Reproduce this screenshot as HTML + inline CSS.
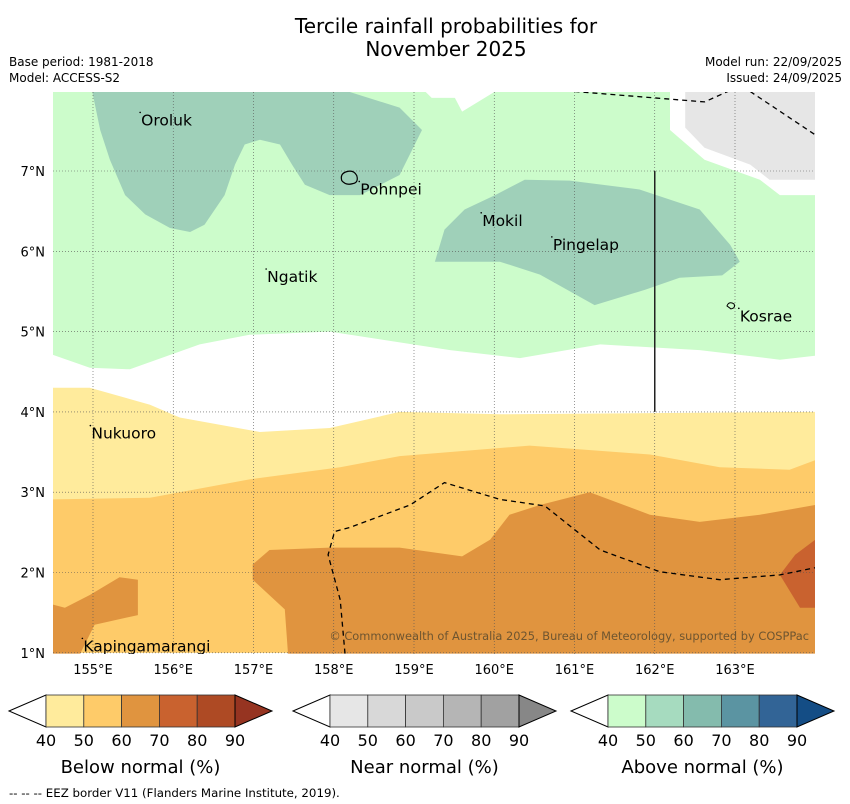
<!DOCTYPE html>
<html><head><meta charset="utf-8">
<style>
body{margin:0;background:#fff;width:850px;height:804px;overflow:hidden;font-family:"DejaVu Sans","Liberation Sans",sans-serif;}
svg{position:absolute;left:0;top:0}
</style></head>
<body>
<svg id="chart" width="850" height="804" viewBox="0 0 850 804">
<text x="446" y="33" font-size="20" text-anchor="middle">Tercile rainfall probabilities for</text>
<text x="446" y="56" font-size="20" text-anchor="middle">November 2025</text>
<text x="9" y="66" font-size="12">Base period: 1981-2018</text>
<text x="9" y="82" font-size="12">Model: ACCESS-S2</text>
<text x="842" y="66" font-size="12" text-anchor="end">Model run: 22/09/2025</text>
<text x="842" y="82" font-size="12" text-anchor="end">Issued: 24/09/2025</text>
<defs><clipPath id="mapclip"><rect x="53" y="92" width="762" height="562"/></clipPath></defs>
<g id="map" clip-path="url(#mapclip)"></g>
<g id="overlay"></g>
<text x="809" y="640" font-size="11.4" fill="#6e5530" text-anchor="end">© Commonwealth of Australia 2025, Bureau of Meteorology, supported by COSPPac</text>
<g id="bars"></g>
<text x="9" y="797" font-size="11.8">--  --  -- EEZ border V11 (Flanders Marine Institute, 2019).</text>
</svg>
<script>
const lonTicks=[155,156,157,158,159,160,161,162,163];
const latTicks=[1,2,3,4,5,6,7];
const X=lon=>93+(lon-155)*80.25;
const Y=lat=>171-(lat-7)*80.3;
const greenAbove40=[[154.5,7.99],[159.14,7.99],[159.22,7.91],[159.51,7.91],[159.60,7.74],[160.01,7.99],[162.19,7.99],[162.19,7.51],[162.62,7.14],[163.31,6.89],[163.56,6.70],[164,6.70],[164,4.70],[163.56,4.65],[162.56,4.77],[161.32,4.84],[160.32,4.67],[159.45,4.77],[157.95,5.00],[156.95,4.96],[156.33,4.84],[155.46,4.53],[154.96,4.55],[154.5,4.71]];
const grayNear40=[[162.38,7.99],[164,7.99],[164,6.89],[163.43,6.89],[163.19,7.08],[162.62,7.29],[162.38,7.54]];
const greenAbove50a=[[154.99,7.99],[158.18,7.99],[158.82,7.79],[159.10,7.51],[158.82,6.95],[158.33,6.70],[157.95,6.70],[157.64,6.83],[157.48,7.08],[157.33,7.33],[157.08,7.39],[156.89,7.33],[156.77,7.08],[156.64,6.70],[156.39,6.33],[156.21,6.24],[155.96,6.29],[155.65,6.46],[155.40,6.70],[155.21,7.14],[155.09,7.51]];
const greenAbove50b=[[160.38,6.89],[160.94,6.88],[161.81,6.77],[162.56,6.52],[162.94,6.08],[163.06,5.87],[162.84,5.70],[162.31,5.67],[161.88,5.52],[161.25,5.33],[160.57,5.71],[160.07,5.87],[159.26,5.87],[159.38,6.27],[159.63,6.52],[160.01,6.70]];
const yellowBelow40=[[154.5,4.30],[154.96,4.30],[155.71,4.09],[156.08,3.93],[157.08,3.75],[157.95,3.80],[158.82,4.00],[160.07,3.97],[164,4.00],[164,1],[154.5,1]];
const orangeBelow50=[[154.5,2.91],[155.71,2.93],[156.95,3.16],[158.08,3.31],[158.82,3.45],[160.44,3.58],[161.94,3.47],[162.81,3.31],[163.68,3.28],[164,3.40],[164,1],[154.5,1]];
const orangeBelow60a=[[156.99,2.10],[157.20,2.28],[157.95,2.31],[158.82,2.31],[159.60,2.20],[159.95,2.41],[160.19,2.72],[160.57,2.84],[161.19,3.00],[161.94,2.72],[162.56,2.63],[163.31,2.72],[164,2.84],[164,0.99],[157.43,0.99],[157.39,1.54],[156.99,1.91]];
const orangeBelow60b=[[154.5,1.60],[154.65,1.56],[154.96,1.72],[155.33,1.94],[155.56,1.91],[155.56,1.47],[155.02,1.35],[154.84,0.99],[154.5,0.99]];
const redBelow70=[[164,2.41],[163.75,2.22],[163.56,1.97],[163.81,1.56],[164,1.56]];
const eez1=[[158.14,0.99],[158.08,1.66],[157.93,2.22],[158.01,2.51],[158.20,2.56],[158.95,2.84],[159.38,3.12],[160.07,2.91],[160.63,2.83],[161.32,2.28],[162.06,2.01],[162.81,1.91],[163.56,1.97],[164,2.06]];
const eez2=[[161.0,7.99],[162.62,7.86],[163.0,8.03]];
const eez3=[[163.19,7.99],[164,7.45]];
const islands=[["Oroluk",155.6,7.63],["Pohnpei",158.33,6.77],["Mokil",159.85,6.38],["Pingelap",160.73,6.08],["Ngatik",157.17,5.68],["Kosrae",163.06,5.19],["Nukuoro",154.98,3.73],["Kapingamarangi",154.88,1.08]];
const barTicks=[40,50,60,70,80,90];
const belowColors=["#ffeb9c","#fecb69","#e0943f","#c9622f","#ae4a24","#963421"];
const nearColors=["#e6e6e6","#d8d8d8","#c9c9c9","#b5b5b5","#a1a1a1","#878787"];
const aboveColors=["#ccfccb","#a6dbbf","#84bbad","#5b94a2","#326496","#144d85"];
const NS="http://www.w3.org/2000/svg";
function mk(tag,attrs,parent){const e=document.createElementNS(NS,tag);for(const k in attrs)e.setAttribute(k,attrs[k]);parent.appendChild(e);return e;}
const pts=a=>a.map(p=>X(p[0]).toFixed(1)+","+Y(p[1]).toFixed(1)).join(" ");
const map=document.getElementById("map");
function poly(arr,fill,name){const e=mk("polygon",{points:pts(arr),fill:fill},map);

}
poly(greenAbove40,"#ccfccb","above-normal-40-region");
poly(grayNear40,"#e6e6e6","near-normal-40-region");
poly(greenAbove50a,"#9fd0b9","above-normal-50-region-west");
poly(greenAbove50b,"#9fd0b9","above-normal-50-region-east");
poly(yellowBelow40,"#ffeb9c","below-normal-40-region");
poly(orangeBelow50,"#fecb69","below-normal-50-region");
poly(orangeBelow60a,"#e0943f","below-normal-60-region-south");
poly(orangeBelow60b,"#e0943f","below-normal-60-region-west");
poly(redBelow70,"#c9622f","below-normal-70-region");
lonTicks.forEach(l=>{const g=mk("line",{x1:X(l),x2:X(l),y1:92,y2:654,stroke:"#555","stroke-width":0.6,"stroke-dasharray":"1,2"},map);

});
latTicks.forEach(l=>{const g=mk("line",{x1:53,x2:815,y1:Y(l),y2:Y(l),stroke:"#555","stroke-width":0.6,"stroke-dasharray":"1,2"},map);

});
[eez1,eez2,eez3].forEach(a=>{const e=mk("polyline",{points:pts(a),fill:"none",stroke:"#000","stroke-width":1.3,"stroke-dasharray":"5,4"},map);

});
const vl=mk("line",{x1:X(162),x2:X(162),y1:Y(7),y2:Y(4),stroke:"#222","stroke-width":1.5},map);


const pe=mk("path",{d:`M${X(158.1)},${Y(6.88)} q-2,-7 5,-9 q7,-2 10,4 q2,7 -4,8 q-7,2 -11,-3z`,fill:"none",stroke:"#000","stroke-width":1.2},map);


const ko=mk("path",{d:`M${X(162.9)},${Y(5.32)} q2,-5 7,-2 q2,4 -3,5z`,fill:"none",stroke:"#000","stroke-width":1},map);


islands.forEach(i=>{const t=mk("text",{x:X(i[1]),y:Y(i[2])+5,"font-size":15.5},map);t.textContent=i[0];


const d=mk("circle",{cx:X(i[1])-1,cy:Y(i[2])-8,r:0.8,fill:"#000"},map);

});
const ov=document.getElementById("overlay");
lonTicks.forEach(l=>{const t=mk("text",{x:X(l),y:674,"font-size":13,"text-anchor":"middle"},ov);t.textContent=l+"°E";

});
latTicks.forEach(l=>{const t=mk("text",{x:45,y:Y(l)+5,"font-size":13,"text-anchor":"end"},ov);t.textContent=l+"°N";

});
const bars=document.getElementById("bars");
function colorbar(x0,colors,title,name){const w=37.8,top=695,bot=727,mid=711,tw=37;
const lt=mk("polygon",{points:`${x0-tw},${mid} ${x0},${top} ${x0},${bot}`,fill:"#fff",stroke:"#000","stroke-width":1},bars);


for(let i=0;i<5;i++){const r=mk("rect",{x:x0+i*w,y:top,width:w,height:bot-top,fill:colors[i],stroke:"#333","stroke-width":0.8},bars);

}
const xe=x0+5*w;
const rt=mk("polygon",{points:`${xe},${top} ${xe+tw},${mid} ${xe},${bot}`,fill:colors[5],stroke:"#000","stroke-width":1},bars);


barTicks.forEach((v,i)=>{const t=mk("text",{x:x0+i*w,y:746,"font-size":16,"text-anchor":"middle"},bars);t.textContent=v;

});
const tt=mk("text",{x:x0+2.5*w,y:773,"font-size":18,"text-anchor":"middle"},bars);tt.textContent=title;

}
colorbar(46,belowColors,"Below normal (%)","below-normal-colorbar");
colorbar(330,nearColors,"Near normal (%)","near-normal-colorbar");
colorbar(608,aboveColors,"Above normal (%)","above-normal-colorbar");
</script>
</body></html>
